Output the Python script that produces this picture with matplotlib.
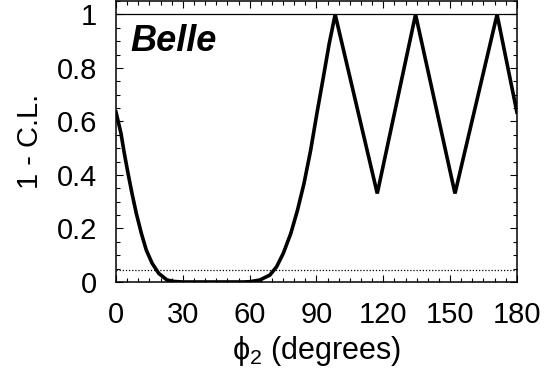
import numpy as np
from matplotlib import pyplot as plt
from matplotlib.ticker import MultipleLocator

plt.rcParams['font.family'] = ['Liberation Sans', 'DejaVu Sans']
plt.rcParams['mathtext.fontset'] = 'custom'
plt.rcParams['mathtext.rm'] = 'Liberation Sans'
plt.rcParams['mathtext.it'] = 'Liberation Sans'

# phi2 scan, 1 - C.L.
phi2 = [0, 2.24, 3.74, 5.39, 7.18, 9.12, 11.37, 13.6, 16.2, 19.2, 22.9, 26.0, 30, 40, 50,
        57, 60.1, 64.6, 69.1, 72.1, 75.1, 78.5, 81.5, 84.4, 87.4, 90.3, 93.1, 95.7, 98.4,
        117.3, 134.5, 152.2, 171.1, 180]
cl = [0.635, 0.555, 0.480, 0.406, 0.331, 0.256, 0.182, 0.119, 0.070, 0.032, 0.0075, 0.002, 0.0, 0.0, 0.0,
      0.0, 0.001, 0.0075, 0.026, 0.057, 0.107, 0.182, 0.269, 0.368, 0.493, 0.635, 0.766, 0.89, 1.0,
      0.331, 1.0, 0.331, 1.0, 0.635]
two_sigma = 0.0455

fig = plt.figure(figsize=(5.57, 3.74), dpi=100)
ax = fig.add_axes([0.2083, 0.246, 0.7197, 0.751])

ax.plot(phi2, cl, color='black', lw=2.6, solid_joinstyle='miter', zorder=5)
ax.axhline(1.0, color='black', lw=0.9)
ax.axhline(two_sigma, color='black', lw=0.9, ls=(0, (1, 1.5)))

ax.set_xlim(0, 180)
ax.set_ylim(0, 1.05)
ax.xaxis.set_major_locator(MultipleLocator(30))
ax.xaxis.set_minor_locator(MultipleLocator(5))
ax.yaxis.set_minor_locator(MultipleLocator(0.05))
ax.set_yticks([0, 0.2, 0.4, 0.6, 0.8, 1.0])
ax.set_yticklabels(['0', '0.2', '0.4', '0.6', '0.8', '1'])
ax.tick_params(which='both', direction='in', top=True, right=True, labelsize=21, width=0.8)
ax.tick_params(axis='y', which='major', length=5, pad=13.5)
ax.tick_params(axis='x', which='major', length=5, pad=14)
ax.tick_params(which='minor', length=3)
for s in ax.spines.values():
    s.set_linewidth(1.1)

ax.set_xlabel(r'$\mathrm{\phi}_2$ (degrees)', fontsize=22, labelpad=3)
ax.set_ylabel('1 - C.L.', fontsize=21, labelpad=9)
ax.text(0.037, 0.855, 'Belle', transform=ax.transAxes, fontsize=26,
        fontweight='bold', fontstyle='italic', va='center')

fig.savefig('out.png', dpi=100)
